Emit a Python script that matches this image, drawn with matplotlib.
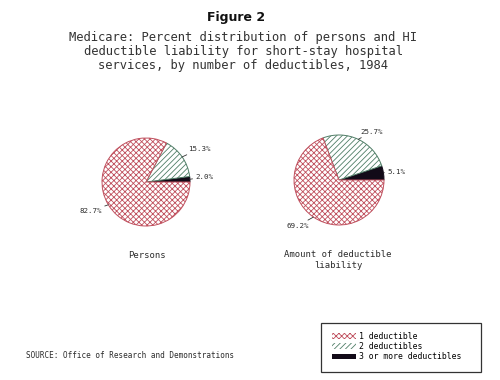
import numpy as np
import matplotlib.pyplot as plt
from matplotlib.patches import Patch, Rectangle

# data, counterclockwise from 3 o'clock
categories = ["3 or more deductibles", "2 deductibles", "1 deductible"]
persons = [2.0, 15.3, 82.7]
liability = [5.1, 25.7, 69.2]
pie_titles = ["Persons", "Amount of deductible\nliability"]

red = "#c0505e"
green = "#4f7d66"
black = "#120a18"
ink = "#2c2c2c"
mono = "DejaVu Sans Mono"

plt.rcParams["hatch.linewidth"] = 0.6

fig = plt.figure(figsize=(5, 3.8), dpi=100)
W, H = 500, 380


def pie_axes(cx, cy, r, span=1.8):
    # square axes in pixels centred on (cx, cy), data radius 1 == r px
    s = r * span * 2
    return fig.add_axes([(cx - s / 2) / W, 1 - (cy + s / 2) / H, s / W, s / H])


def draw_pie(ax, values, label_pos):
    wedges, _ = ax.pie(values, startangle=0, counterclock=True, radius=1,
                       colors=["white"] * 3,
                       wedgeprops=dict(linewidth=0.7))
    styles = [(black, None, black), (green, "//////", "white"), (red, "xxxxxx", "white")]
    for w, (ec, hatch, fc) in zip(wedges, styles):
        w.set_edgecolor(ec)
        w.set_facecolor(fc)
        if hatch:
            w.set_hatch(hatch)
    for v, w, (tx, ty, ha) in zip(values, wedges, label_pos):
        ang = np.deg2rad((w.theta1 + w.theta2) / 2)
        x0, y0 = np.cos(ang), np.sin(ang)
        ax.annotate(f"{v:.1f}%", xy=(x0, y0), xytext=(tx, ty), ha=ha, va="center",
                    fontsize=5.4, family=mono, color=ink,
                    arrowprops=dict(arrowstyle="-", lw=0.6, color="#333333",
                                    shrinkA=0, shrinkB=0))
    ax.set_xlim(-1.8, 1.8)
    ax.set_ylim(-1.8, 1.8)
    ax.set_aspect("equal")
    ax.axis("off")


ax1 = pie_axes(146, 182, 44)
draw_pie(ax1, persons, [(1.12, 0.11, "left"), (0.95, 0.75, "left"), (-1.0, -0.66, "right")])

ax2 = pie_axes(339, 180, 45)
draw_pie(ax2, liability, [(1.07, 0.18, "left"), (0.47, 1.07, "left"), (-0.67, -1.02, "right")])

# titles
fig.text(236 / W, 1 - 17 / H, "Figure 2", ha="center", va="center",
         fontsize=9, fontweight="bold", family="DejaVu Sans", color="#111111")
subtitle = ["Medicare: Percent distribution of persons and HI",
            "deductible liability for short-stay hospital",
            "services, by number of deductibles, 1984"]
for i, line in enumerate(subtitle):
    fig.text(243 / W, 1 - (37 + 14 * i) / H, line, ha="center", va="center",
             fontsize=8.7, family=mono, color="#333333")

fig.text(147 / W, 1 - 255 / H, pie_titles[0], ha="center", va="center",
         fontsize=6.4, family=mono, color=ink)
fig.text(338 / W, 1 - 260 / H, pie_titles[1], ha="center", va="center",
         fontsize=6.4, family=mono, color=ink, linespacing=1.2)

fig.text(26 / W, 1 - 356 / H, "SOURCE: Office of Research and Demonstrations",
         ha="left", va="center", fontsize=5.5, family=mono, color=ink)

# legend box
fig.add_artist(Rectangle((321 / W, 1 - 372 / H), 160 / W, 49 / H,
                         transform=fig.transFigure, fill=False, lw=0.9,
                         edgecolor="#333333"))
handles = [Patch(facecolor="white", edgecolor=red, hatch="xxxxxx", lw=0),
           Patch(facecolor="white", edgecolor=green, hatch="//////", lw=0),
           Patch(facecolor=black, edgecolor=black, lw=0)]
labels = ["1 deductible", "2 deductibles", "3 or more deductibles"]
fig.legend(handles, labels, loc="upper left",
           bbox_to_anchor=(332 / W, 1 - 332 / H), frameon=False,
           prop=dict(family=mono, size=5.9),
           handlelength=2.9, handleheight=0.7, handletextpad=0.45,
           labelspacing=0.15, borderpad=0, borderaxespad=0)

fig.savefig("out.png", dpi=100, facecolor="white")
